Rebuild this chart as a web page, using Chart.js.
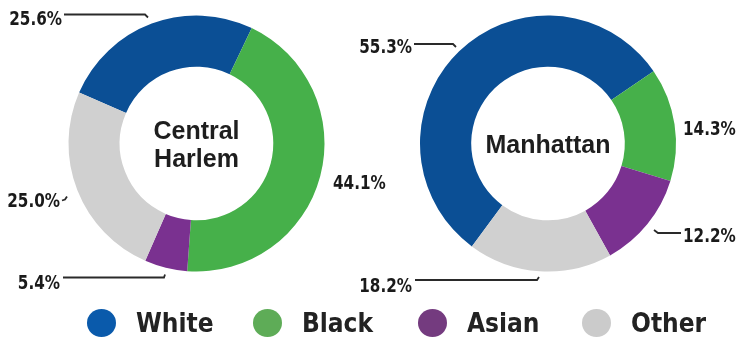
<!DOCTYPE html>
<html>
<head>
<meta charset="utf-8">
<script src="https://cdn.jsdelivr.net/npm/chart.js@4/dist/chart.umd.min.js"></script>
<style>
  html, body { margin: 0; padding: 0; background: #fff; }
  #wrap { position: relative; width: 736px; height: 341px; overflow: hidden; }
  #wrap canvas { position: absolute; left: 0; top: 0; }
  #legend { position: absolute; left: 0; top: 309px; height: 28px; width: 736px; }
  .item { position: absolute; top: 0; height: 28px; }
  .dot { position: absolute; left: 0; top: 0; width: 29px; height: 28px; border-radius: 50%; }
  .lbl { position: absolute; left: 49px; top: -3px; font: bold 26px "DejaVu Sans Condensed", "Liberation Sans Narrow", sans-serif; color: #222; white-space: nowrap; line-height: 34px; }
</style>
</head>
<body>
<div id="wrap">
  <canvas id="harlem" width="736" height="341"></canvas>
  <canvas id="manhattan" width="736" height="341"></canvas>
  <div id="legend"></div>
</div>
<script>
const categories = ["White", "Black", "Asian", "Other"];
const harlemValues = [25.6, 44.1, 5.4, 25.0];
const manhattanValues = [55.3, 14.3, 12.2, 18.2];
const sliceColors = ["#0b4f95", "#46b04a", "#7a3190", "#d0d0d0"];
const legendColors = ["#0a5aab", "#5eac57", "#743b7f", "#cbcbcb"];

const labelFont = 'bold 19px "DejaVu Sans Condensed", "Liberation Sans Narrow", sans-serif';
const labelSquash = 0.89;
const centerFont = 'bold 25px "Liberation Sans", Arial, sans-serif';

// draws the percentage callouts with their little leader lines
const calloutPlugin = {
  id: "callouts",
  afterDraw(chart, args, opts) {
    const ctx = chart.ctx;
    const values = chart.data.datasets[0].data;
    (opts.items || []).forEach((it, i) => {
      ctx.save();
      ctx.font = labelFont;
      ctx.fillStyle = "#1a1a1a";
      ctx.textBaseline = "alphabetic";
      ctx.textAlign = it.align;
      // the original type is a narrow face, so squeeze it a bit
      ctx.translate(it.x, it.y);
      ctx.scale(labelSquash, 1);
      ctx.fillText(values[i].toFixed(1) + "%", 0, 0);
      ctx.restore();
      if (it.line) {
        ctx.save();
        ctx.beginPath();
        ctx.strokeStyle = "#2a2a2a";
        ctx.lineWidth = 1.8;
        it.line.forEach((p, j) => (j ? ctx.lineTo(p[0], p[1]) : ctx.moveTo(p[0], p[1])));
        ctx.stroke();
        ctx.restore();
      }
    });
  }
};

// the name written in the hole of the ring
const centerTextPlugin = {
  id: "centerText",
  afterDraw(chart, args, opts) {
    const arc = chart.getDatasetMeta(0).data[0];
    if (!arc) return;
    const ctx = chart.ctx;
    const lines = opts.lines || [];
    const lh = 28;
    ctx.save();
    ctx.font = centerFont;
    ctx.fillStyle = "#1e1e1e";
    ctx.textAlign = "center";
    ctx.textBaseline = "alphabetic";
    const first = arc.y + 9 - (lines.length - 1) * lh / 2;
    lines.forEach((t, i) => ctx.fillText(t, arc.x, first + i * lh));
    ctx.restore();
  }
};

function makeDonut(id, values, rotation, padding, lines, items) {
  return new Chart(document.getElementById(id), {
    type: "doughnut",
    data: {
      labels: categories,
      datasets: [
        {
          data: values,
          backgroundColor: sliceColors,
          borderWidth: 0,
          hoverOffset: 0
        }
      ]
    },
    options: {
      responsive: false,
      animation: false,
      cutout: "60%",
      rotation: rotation,
      layout: { padding: padding },
      events: [],
      plugins: {
        legend: { display: false },
        tooltip: { enabled: false },
        centerText: { lines: lines },
        callouts: { items: items }
      }
    },
    plugins: [centerTextPlugin, calloutPlugin]
  });
}

makeDonut("harlem", harlemValues, -66.5,
  { left: 68.5, right: 411.5, top: 15.5, bottom: 69.5 },
  ["Central", "Harlem"],
  [
    { align: "right", x: 62, y: 25, line: [[64, 14.5], [145, 14.5], [148, 17.5]] },
    { align: "left", x: 333, y: 189 },
    { align: "right", x: 60, y: 289, line: [[63, 277.5], [164, 277.5], [165, 274.5]] },
    { align: "right", x: 60, y: 207, line: [[62, 200.5], [65, 199.5], [67, 196.5]] }
  ]);

makeDonut("manhattan", manhattanValues, -143.5,
  { left: 420, right: 60, top: 15.5, bottom: 69.5 },
  ["Manhattan"],
  [
    { align: "right", x: 412, y: 53, line: [[414, 44], [453, 44], [456, 47]] },
    { align: "left", x: 683, y: 135 },
    { align: "left", x: 683, y: 242, line: [[681, 233], [658, 233], [654, 230]] },
    { align: "right", x: 412, y: 292, line: [[415, 280], [537, 280], [539, 277]] }
  ]);

// legend built from the same categories and colours
const legendX = [87, 253, 418, 582];
const legend = document.getElementById("legend");
categories.forEach((name, i) => {
  const item = document.createElement("div");
  item.className = "item";
  item.style.left = legendX[i] + "px";
  item.innerHTML = '<span class="dot" style="background:' + legendColors[i] + '"></span><span class="lbl">' + name + "</span>";
  legend.appendChild(item);
});
</script>
</body>
</html>
